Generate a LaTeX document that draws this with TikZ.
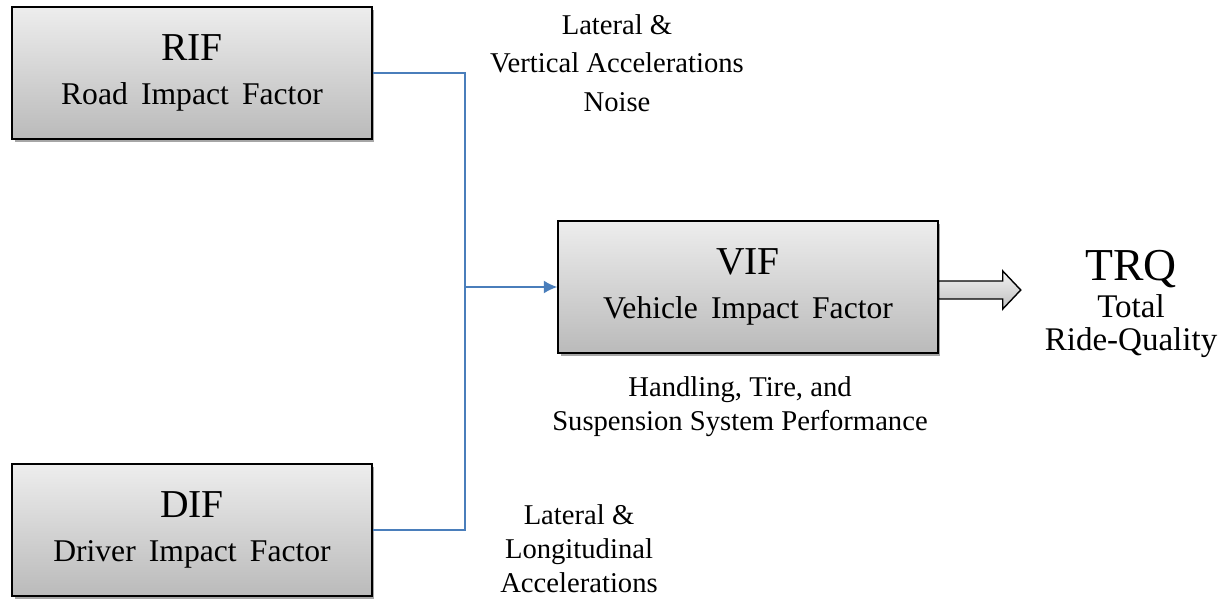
\documentclass[tikz,border=0pt]{standalone}
\usepackage{fontspec}
\setmainfont{Liberation Serif}
\usetikzlibrary{arrows.meta,shadows,calc}

\definecolor{linkblue}{HTML}{4A7EBB}

\tikzset{
  factor/.style={draw=black,line width=0.9pt,top color=black!7,bottom color=black!27,
    minimum height=2.64cm,align=center,inner sep=0pt,
    font=\fontsize{18}{25}\selectfont,
    drop shadow={shadow xshift=0.05cm,shadow yshift=-0.06cm,opacity=0.35,fill=black}},
  note/.style={align=center,font=\fontsize{16.3}{19.3}\selectfont},
  link/.style={draw=linkblue,line width=0.85pt},
  bigarrow/.style={draw=black,line width=0.8pt,top color=black!5,bottom color=black!25}
}
\newcommand{\ttl}[1]{{\fontsize{22.5}{25}\selectfont #1}}

\begin{document}
\begin{tikzpicture}[x=0.02cm,y=-0.02cm]
\useasboundingbox (0,0) rectangle (1223,598);

\node[factor,minimum width=7.2cm] (RIF) at (192,73) {\ttl{RIF}\\ Road\ \,Impact\ \,Factor};
\node[factor,minimum width=7.2cm] (DIF) at (192,530) {\ttl{DIF}\\ Driver\ \,Impact\ \,Factor};
\node[factor,minimum width=7.6cm] (VIF) at (748,287) {\ttl{VIF}\\ Vehicle\ \,Impact\ \,Factor};

\coordinate (jn) at (465,287);
\draw[link] (RIF.east) -| (jn) |- (DIF.east);
\draw[link,-{Latex[length=0.27cm,width=0.26cm]}] (jn) -- (VIF.west);

\draw[bigarrow] (VIF.east) ++(0,-6) -- ++(64,0) -- ++(0,-10) -- ++(18,19) -- ++(-18,19)
  -- ++(0,-10) -- ++(-64,0) -- cycle;

\node[align=center,font=\fontsize{18.8}{18.5}\selectfont] (TRQ) at (1131,304)
  {{\fontsize{26}{26}\selectfont TRQ}\\[2.5pt] Total\\ Ride-Quality};

\node[note,font=\fontsize{16.3}{22}\selectfont] (top) at (617,63) {Lateral \&\\ Vertical Accelerations\\ Noise};
\node[note] (mid) at (740,407) {Handling, Tire, and\\ Suspension System Performance};
\node[note] (bot) at (579,549) {Lateral \&\\ Longitudinal\\ Accelerations};
\end{tikzpicture}
\end{document}
